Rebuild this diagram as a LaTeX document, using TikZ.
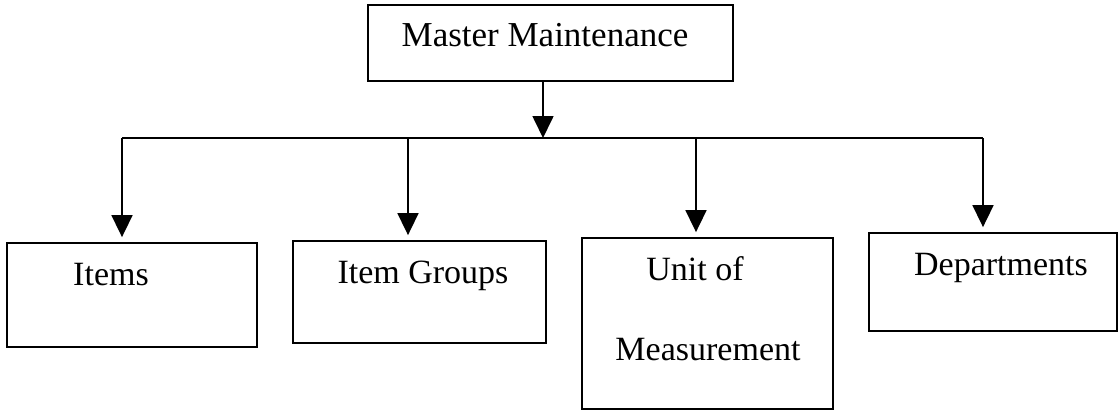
\documentclass[tikz,border=0pt]{standalone}
\usepackage{fontspec}
\setmainfont{Liberation Serif}
\usetikzlibrary{arrows.meta}
\begin{document}
\begin{tikzpicture}[x=1pt,y=-1pt,
  box/.style={draw=black,line width=1.8pt,rectangle,inner sep=0pt},
  lbl/.style={anchor=base,inner sep=0pt,font=\fontsize{34}{40}\selectfont},
  link/.style={draw=black,line width=1.7pt},
  arr/.style={link,-{Triangle[width=21pt,length=22pt]},shorten >=5pt}]
\useasboundingbox (0,0) rectangle (1119,412);

% boxes
\node[box,minimum width=365pt,minimum height=76pt] (master) at (550.5,43) {};
\node[box,minimum width=250pt,minimum height=104pt] (items) at (132,295) {};
\node[box,minimum width=253pt,minimum height=102pt] (groups) at (419.5,292) {};
\node[box,minimum width=251pt,minimum height=171pt] (unit) at (707.5,323.5) {};
\node[box,minimum width=248pt,minimum height=98pt] (dept) at (993,282) {};

% labels
\node[lbl,font=\fontsize{35}{42}\selectfont] (tmaster) at (545,47) {Master Maintenance};
\node[lbl] (titems) at (111,285) {Items};
\node[lbl] (tgroups) at (423,283) {Item Groups};
\node[lbl] (tunit1) at (695,280) {Unit of};
\node[lbl] (tunit2) at (708,360) {Measurement};
\node[lbl] (tdept) at (1001,275) {Departments};

% distribution bus
\coordinate (hub) at (543,138);
\coordinate (b1) at (122,138);
\coordinate (b2) at (408,138);
\coordinate (b3) at (696,138);
\coordinate (b4) at (983,138);

\draw[arr,shorten >=0pt] (master.south -| hub) -- (hub);
\draw[link] (b1) -- (b4);
\draw[arr] (b1) -- (b1 |- items.north);
\draw[arr] (b2) -- (b2 |- groups.north);
\draw[arr] (b3) -- (b3 |- unit.north);
\draw[arr] (b4) -- (b4 |- dept.north);
\end{tikzpicture}
\end{document}
